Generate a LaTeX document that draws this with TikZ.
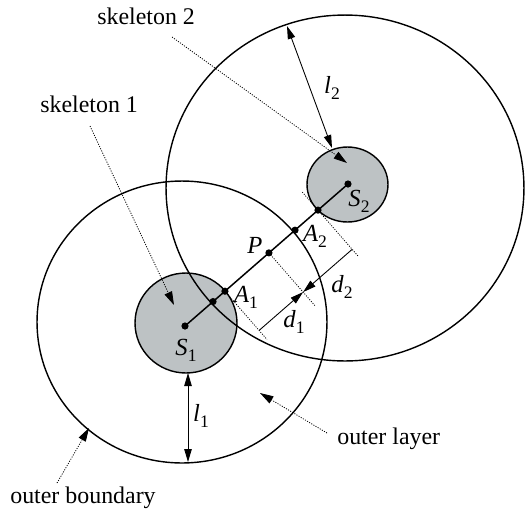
\documentclass[tikz,border=0pt]{standalone}
\usepackage{fontspec}
\setmainfont{Liberation Serif}
\usetikzlibrary{arrows.meta,calc}
\definecolor{skelgray}{RGB}{189,194,196}
\newcommand\mlab[2]{\textit{#1}\raisebox{-3.5pt}{\fontsize{10}{10}\selectfont #2}}
\begin{document}
\begin{tikzpicture}[x=0.02cm,y=-0.02cm,
  bound/.style={line width=0.8pt},
  skel/.style={fill=skelgray,draw=black,line width=0.8pt},
  guide/.style={line width=0.45pt,dash pattern=on 0.6pt off 0.8pt},
  guidearrow/.style={guide,-{Triangle[length=2.7mm,width=1.6mm]}},
  dimarrow/.style={line width=0.5pt,{Triangle[length=2.6mm,width=1.5mm]}-{Triangle[length=2.6mm,width=1.5mm]}},
  dimline/.style={line width=0.5pt,-{Triangle[length=2.6mm,width=1.5mm]}},
  txt/.style={font=\fontsize{13.6}{16}\selectfont,inner sep=0pt},
  mtxt/.style={font=\fontsize{14}{16}\selectfont,inner sep=0pt}]
\useasboundingbox (0,0) rectangle (525,515);

% centres and key points
\coordinate (C1) at (182,322);
\coordinate (C2) at (345,188);
\coordinate (SC1) at (186,323);
\coordinate (SC2) at (347.5,184.5);
\coordinate (S1) at (185,326);
\coordinate (S2) at (348,184);
\coordinate (J)  at ($(S1)!0.172!(S2)$);
\coordinate (A1) at ($(S1)!0.245!(S2)$);
\coordinate (P)  at ($(S1)!0.515!(S2)$);
\coordinate (X)  at ($(S1)!0.675!(S2)$);
\coordinate (A2) at ($(S1)!0.816!(S2)$);

% skeleton discs
\draw[skel] (SC1) ellipse [x radius=1.02cm, y radius=1.0cm];
\draw[skel] (SC2) ellipse [x radius=0.81cm, y radius=0.75cm];

% outer boundaries
\draw[bound] (C1) ellipse [x radius=2.9cm, y radius=2.82cm];
\draw[bound] (C2) ellipse [x radius=3.58cm, y radius=3.46cm];

% connecting line and points
\draw[line width=0.85pt] (S1) -- (S2);
\foreach \p in {S1,S2,J,A1,P,X,A2} \fill (\p) circle [radius=0.072cm];

% guide lines for distances
\coordinate (A1e) at ($(A1)+64*(0.657,0.754)$);
\coordinate (Pe)  at ($(P)+71*(0.657,0.754)$);
\coordinate (A2s) at ($(A2)-24*(0.657,0.754)$);
\coordinate (A2e) at ($(A2)+62*(0.657,0.754)$);
\coordinate (A1m) at ($(A1)+52*(0.657,0.754)$);
\coordinate (Pm)  at ($(P)+52*(0.657,0.754)$);
\coordinate (A2m) at ($(A2)+52*(0.657,0.754)$);
\draw[guide] (A1) -- (A1e);
\draw[guide] (P) -- (Pe);
\draw[guide] (A2s) -- (A2e);
\draw[dimline] (A1m) -- (Pm);
\draw[dimline] (A2m) -- (Pm);

% thickness arrows
\coordinate (l1a) at (188,373);
\coordinate (l1b) at (188,462);
\coordinate (l2a) at (287,26);
\coordinate (l2b) at (332,148);
\draw[dimarrow] (l1a) -- (l1b);
\draw[dimarrow] (l2a) -- (l2b);

% pointer arrows
\coordinate (sk2a) at (172,37);
\coordinate (sk2b) at (347,163);
\coordinate (sk1a) at (90,126);
\coordinate (sk1b) at (174,305);
\coordinate (ola) at (327,433);
\coordinate (olb) at (260,393);
\coordinate (oba) at (57,483);
\coordinate (obb) at (89,428);
\draw[guidearrow] (sk2a) -- (sk2b);
\draw[guidearrow] (sk1a) -- (sk1b);
\draw[guidearrow] (ola) -- (olb);
\draw[guidearrow] (oba) -- (obb);

% text labels
\node[txt,anchor=base west] (tsk2) at (97,24) {skeleton 2};
\node[txt,anchor=base west] (tsk1) at (40,112) {skeleton 1};
\node[txt,anchor=base west] (tol) at (337,444) {outer layer};
\node[txt,anchor=base west] (tob) at (10,503) {outer boundary};

% math labels
\node[mtxt] (lS1) at (186,350) {\mlab{S}{1}};
\node[mtxt] (lS2) at (359,201) {\mlab{S}{2}};
\node[mtxt] (lA1) at (246,297) {\mlab{A}{1}};
\node[mtxt] (lA2) at (315,236) {\mlab{A}{2}};
\node[mtxt] (lP) at (255,245) {\textit{P}};
\node[mtxt] (ld1) at (294,322) {\mlab{d}{1}};
\node[mtxt] (ld2) at (342,287) {\mlab{d}{2}};
\node[mtxt] (ll1) at (201,416) {\mlab{l}{1}};
\node[mtxt] (ll2) at (332,88) {\mlab{l}{2}};
\end{tikzpicture}
\end{document}
